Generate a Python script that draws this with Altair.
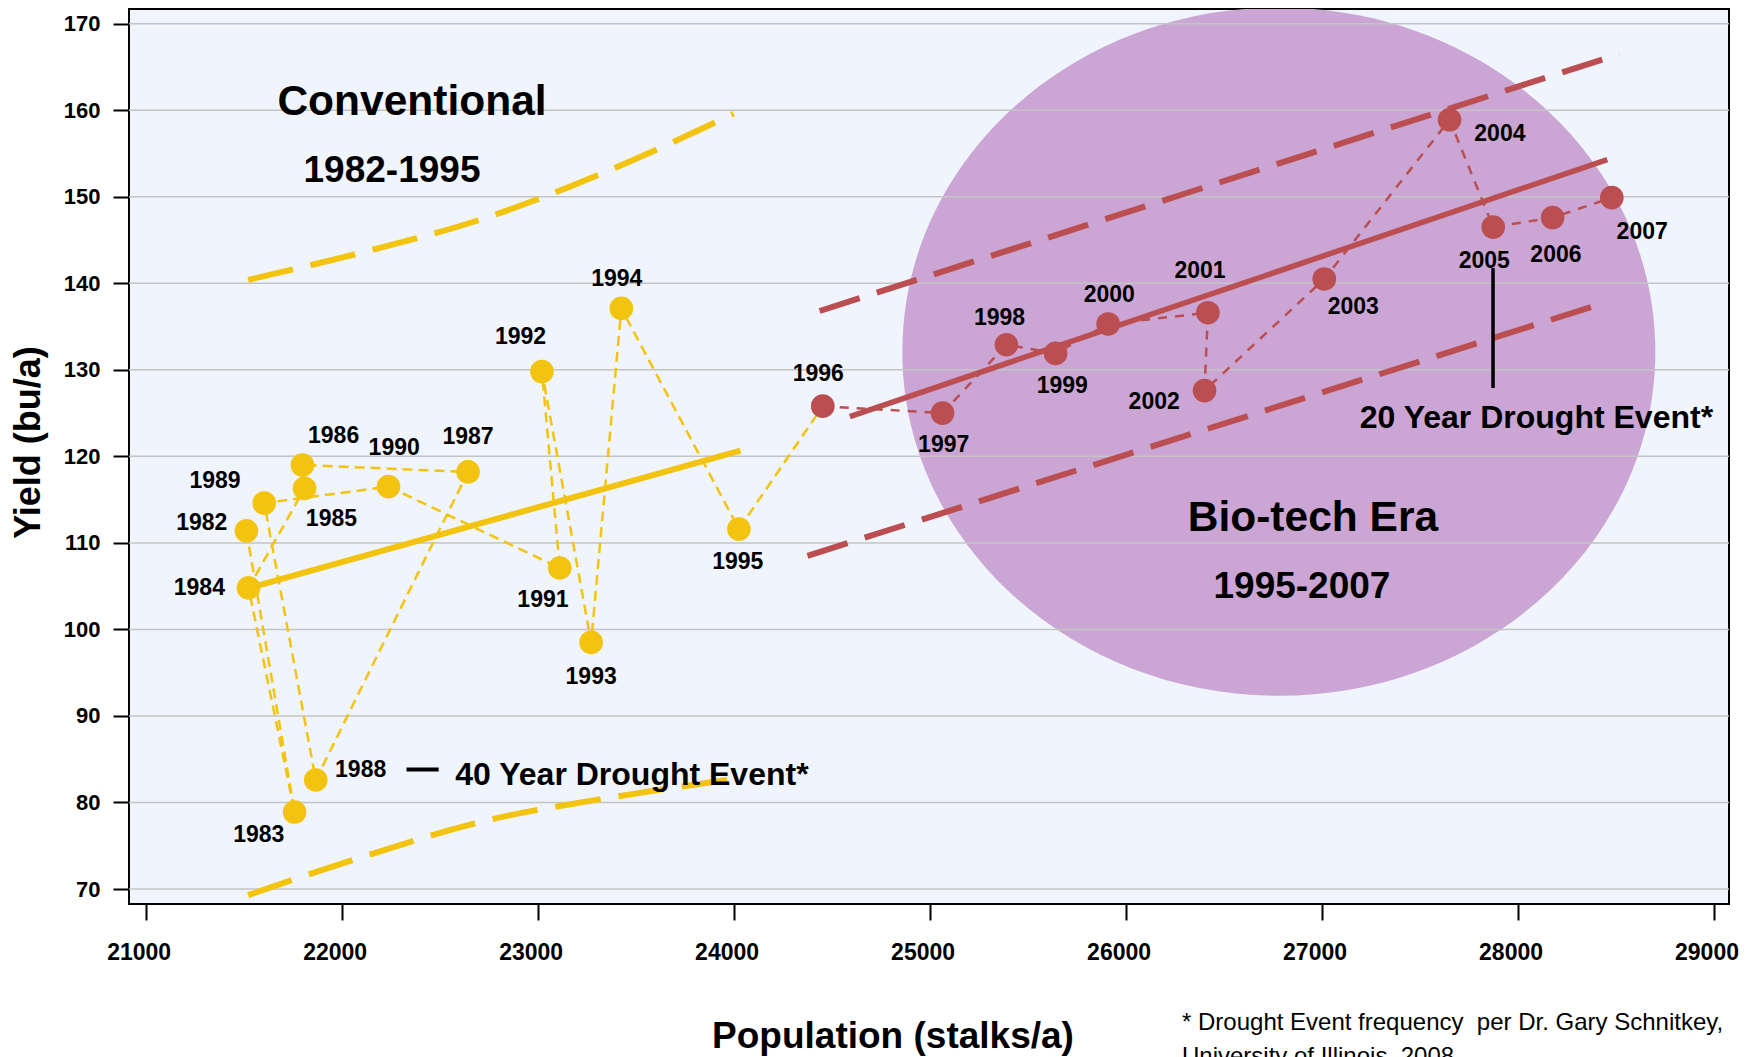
import altair as alt
import pandas as pd

# ---------------- data ----------------
years = list(range(1982, 2008))
population = [21514, 21760, 21525, 21811, 21800, 22645, 21868, 21605, 22239, 23113,
              23022, 23273, 23427, 24027, 24455, 25066, 25392, 25643, 25911, 26420,
              26403, 27014, 27653, 27876, 28179, 28481]
yield_bu = [111.4, 78.9, 104.8, 116.3, 119.0, 118.2, 82.6, 114.6, 116.5, 107.1,
            129.8, 98.5, 137.1, 111.6, 125.8, 125.0, 132.9, 131.9, 135.3, 136.6,
            127.6, 140.5, 158.9, 146.5, 147.6, 149.9]
# year-label anchor positions (data units)
label_x = [21286, 21577, 21274, 21948, 21959, 22645, 22097, 21354, 22268, 23027,
           22913, 23273, 23404, 24021, 24432, 25072, 25357, 25677, 25917, 26380,
           26146, 27162, 27910, 27830, 28196, 28636]
label_y = [112.3, 76.2, 104.8, 112.8, 122.3, 122.2, 83.8, 117.2, 121.0, 103.4,
           133.8, 94.5, 140.5, 107.8, 129.5, 121.3, 136.0, 128.1, 138.6, 141.4,
           126.3, 137.3, 157.2, 142.6, 143.3, 145.9]

# trend lines and bands
conv_fit_x = [21523, 24035]
conv_fit_y = [104.75, 120.66]
conv_upper_x = [21523, 22093, 22740, 23369, 24000]
conv_upper_y = [140.4, 143.5, 147.6, 153.1, 159.6]
conv_lower_x = [21523, 22077, 22717, 23378, 24000]
conv_lower_y = [69.3, 73.5, 77.8, 80.6, 82.7]
bio_fit_x = [24593, 28458]
bio_fit_y = [124.6, 154.3]
bio_upper_x = [24439, 28520]
bio_upper_y = [136.8, 166.5]
bio_lower_x = [24377, 28436]
bio_lower_y = [108.5, 137.7]

# ellipse (Bio-tech Era) centre
ellipse_x = [26782]
ellipse_y = [132.1]

# annotations
era_titles = ["Conventional", "Bio-tech Era"]
era_title_x = [22359, 26956]
era_title_y = [159.4, 111.4]
era_years = ["1982-1995", "1995-2007"]
era_years_x = [22257, 26900]
era_years_y = [151.7, 103.6]
drought_text = ["40 Year Drought Event*", "20 Year Drought Event*"]
drought_x = [22580, 27195]
drought_y = [82.0, 123.3]
dash40_x = [22331]
dash40_x2 = [22495]
dash40_y = [83.8]
line20_x = [27875]
line20_y = [141.75]
line20_y2 = [127.9]
footnote_lines = ["* Drought Event frequency\u00a0 per Dr. Gary Schnitkey,",
                  "University of Illinois, 2008"]

x_ticks = list(range(21000, 30000, 1000))
y_ticks = list(range(70, 180, 10))
x_domain = [20915, 29079]
y_domain = [68.27, 171.7]

YELLOW = "#F3C40F"
RED = "#BA4E50"
PURPLE = "#CBA6D4"
FONT = "Liberation Sans"

# ---------------- scales / axes ----------------
xscale = alt.Scale(domain=x_domain, nice=False, zero=False)
yscale = alt.Scale(domain=y_domain, nice=False, zero=False)
xaxis = alt.Axis(values=x_ticks, format="d", title="Population (stalks/a)", grid=False,
                 domain=False, tickSize=16, tickWidth=2, tickColor="black",
                 labelFont=FONT, labelFontSize=23, labelFontWeight="bold", labelColor="black",
                 labelPadding=21, labelOffset=-7, labelFlush=False, labelOverlap=False,
                 titleFont=FONT, titleFontSize=37, titleFontWeight="bold", titleColor="black",
                 titleX=763.5, titleY=143, titleAlign="center", titleBaseline="alphabetic")
yaxis = alt.Axis(values=y_ticks, title="Yield (bu/a)", grid=False, domain=False,
                 tickSize=16, tickWidth=2, tickColor="black",
                 labelFont=FONT, labelFontSize=22, labelFontWeight="bold", labelColor="black",
                 labelPadding=13, labelOverlap=False,
                 titleFont=FONT, titleFontSize=36, titleFontWeight="bold", titleColor="black",
                 titleAngle=270, titleX=-101, titleY=433, titleAlign="center",
                 titleBaseline="middle")


def X(f="x"):
    return alt.X(f, type="quantitative", scale=xscale, axis=xaxis)


def Y(f="y"):
    return alt.Y(f, type="quantitative", scale=yscale, axis=yaxis)


# ---------------- tables ----------------
pts = pd.DataFrame({"year": years, "x": population, "y": yield_bu,
                    "lx": label_x, "ly": label_y})
pts["label"] = pts["year"].astype(str)
conv_path = pts[pts["year"] <= 1996]
bio_path = pts[pts["year"] >= 1996]
conv_pts = pts[pts["year"] <= 1995]
bio_pts = pts[pts["year"] >= 1996]


def band_df(xs_up, ys_up, xs_lo, ys_lo):
    rows = []
    for i, (a, b) in enumerate(zip(xs_up, ys_up)):
        rows.append({"band": "upper", "i": i, "x": a, "y": b})
    for i, (a, b) in enumerate(zip(xs_lo, ys_lo)):
        rows.append({"band": "lower", "i": i, "x": a, "y": b})
    return pd.DataFrame(rows)


conv_band = band_df(conv_upper_x, conv_upper_y, conv_lower_x, conv_lower_y)
bio_band = band_df(bio_upper_x, bio_upper_y, bio_lower_x, bio_lower_y)

ELLIPSE = ("M-1,0C-1,-0.5048,-0.5523,-0.914,0,-0.914C0.5523,-0.914,1,-0.5048,1,0"
           "C1,0.5048,0.5523,0.914,0,0.914C-0.5523,0.914,-1,0.5048,-1,0Z")

ellipse = alt.Chart(pd.DataFrame({"x": ellipse_x, "y": ellipse_y})).mark_point(
    shape=ELLIPSE, filled=True, size=753 * 753, color=PURPLE, opacity=1,
    strokeWidth=0, clip=True).encode(x=X(), y=Y())

grid = alt.Chart(pd.DataFrame({"y": y_ticks})).mark_rule(
    color="#C4C4C4", strokeWidth=1.5).encode(y=Y())

conv_fit = alt.Chart(pd.DataFrame({"x": conv_fit_x, "y": conv_fit_y})).mark_line(
    color=YELLOW, strokeWidth=6).encode(x=X(), y=Y())
conv_bands = alt.Chart(conv_band).mark_line(
    color=YELLOW, strokeWidth=6, strokeDash=[46, 18], interpolate="monotone",
    strokeCap="butt").encode(x=X(), y=Y(), detail="band:N", order="i:Q")
bio_fit = alt.Chart(pd.DataFrame({"x": bio_fit_x, "y": bio_fit_y})).mark_line(
    color=RED, strokeWidth=5.5).encode(x=X(), y=Y())
bio_bands = alt.Chart(bio_band).mark_line(
    color=RED, strokeWidth=6, strokeDash=[42, 18], strokeCap="butt").encode(
    x=X(), y=Y(), detail="band:N", order="i:Q")

conv_conn = alt.Chart(conv_path).mark_line(
    color=YELLOW, strokeWidth=2.5, strokeDash=[10, 6]).encode(
    x=X(), y=Y(), order="year:Q")
bio_conn = alt.Chart(bio_path).mark_line(
    color=RED, strokeWidth=2.5, strokeDash=[9, 8]).encode(
    x=X(), y=Y(), order="year:Q")

conv_dots = alt.Chart(conv_pts).mark_circle(
    color=YELLOW, size=560, opacity=1).encode(x=X(), y=Y())
bio_dots = alt.Chart(bio_pts).mark_circle(
    color=RED, size=560, opacity=1).encode(x=X(), y=Y())

year_labels = alt.Chart(pts).mark_text(
    font=FONT, fontWeight="bold", fontSize=23, color="black",
    align="center", baseline="middle").encode(x=X("lx"), y=Y("ly"), text="label:N")

titles = alt.Chart(pd.DataFrame({"x": era_title_x, "y": era_title_y, "t": era_titles})).mark_text(
    font=FONT, fontWeight="bold", fontSize=42.5, color="black",
    align="center", baseline="alphabetic").encode(x=X(), y=Y(), text="t:N")
spans = alt.Chart(pd.DataFrame({"x": era_years_x, "y": era_years_y, "t": era_years})).mark_text(
    font=FONT, fontWeight="bold", fontSize=37, color="black",
    align="center", baseline="alphabetic").encode(x=X(), y=Y(), text="t:N")
drought = alt.Chart(pd.DataFrame({"x": drought_x, "y": drought_y, "t": drought_text})).mark_text(
    font=FONT, fontWeight="bold", fontSize=32, color="black",
    align="left", baseline="alphabetic").encode(x=X(), y=Y(), text="t:N")

dash40 = alt.Chart(pd.DataFrame({"x": dash40_x, "x2": dash40_x2, "y": dash40_y})).mark_rule(
    color="black", strokeWidth=4).encode(x=X(), x2="x2:Q", y=Y())
line20 = alt.Chart(pd.DataFrame({"x": line20_x, "y": line20_y, "y2": line20_y2})).mark_rule(
    color="black", strokeWidth=3.5).encode(x=X(), y=Y(), y2="y2:Q")

footnote = alt.Chart(pd.DataFrame({"note": ["\n".join(footnote_lines)]})).mark_text(
    font=FONT, fontSize=24, color="black", align="left", baseline="alphabetic",
    lineBreak="\n", lineHeight=34).encode(
    x=alt.value(1053), y=alt.value(1021), text="note:N")

chart = alt.layer(
    ellipse, grid, conv_bands, bio_bands, conv_fit, bio_fit, conv_conn, bio_conn,
    conv_dots, bio_dots, year_labels, titles, spans, drought, dash40, line20, footnote
).properties(
    width=1600, height=895,
    autosize=alt.AutoSizeParams(type="none"),
    padding={"left": 121, "top": 1, "right": 10, "bottom": 153},
    background="white",
).configure_view(
    stroke="black", strokeWidth=2, fill="#F0F4FC"
)

chart.save("out.html", embed_options={"renderer": "svg", "actions": False})
